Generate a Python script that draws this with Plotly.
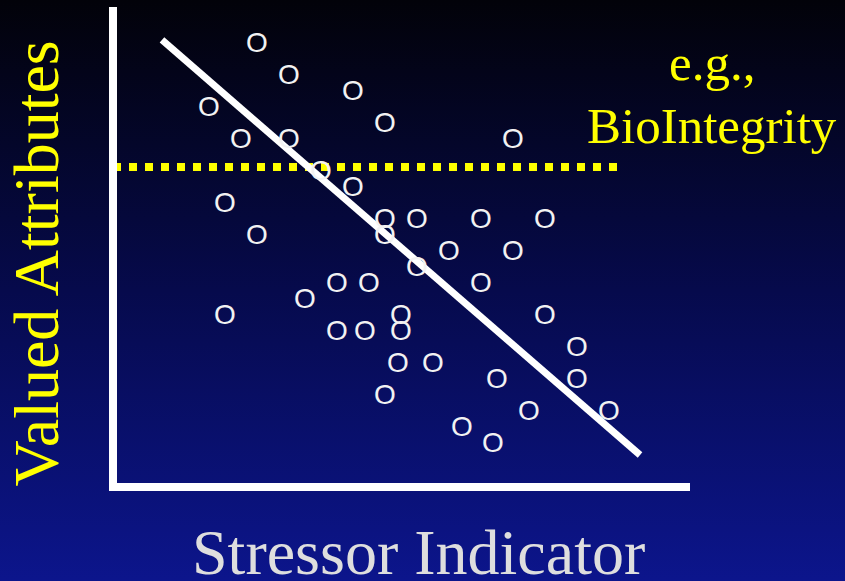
import base64
import plotly.graph_objects as go

# ---- data ----
stress_x = [9, 11, 15, 6, 17, 8, 11, 25, 13, 15,
            7, 17, 19, 23, 27, 9, 17, 21, 25, 19,
            14, 16, 23, 12, 7, 18, 27, 14, 15.75, 18,
            29, 17.8, 20, 24, 29, 17, 26, 31, 21.8, 23.75]
value_y = [28, 26, 25, 24, 23, 22, 22, 22, 20, 19,
           18, 17, 17, 17, 17, 16, 16, 15, 15, 14,
           13, 13, 13, 12, 11, 11, 11, 10, 10, 10,
           9, 8, 8, 7, 7, 6, 5, 5, 4, 3]
trend_x = [3.06, 32.94]
trend_y = [28.14, 2.2]
threshold_x = [0, 31.5]
threshold_y = [20.2, 20.2]

W, H = 845, 581
L, R, T, B = 113, 155, 7, 94
PW, PH = W - L - R, H - T - B
O_SIZE = 28


def px(xp):
    return (xp - L) / PW


def py(yp):
    return (H - B - yp) / PH


svg = (
    "<svg xmlns='http://www.w3.org/2000/svg' width='845' height='581'>"
    "<defs><linearGradient id='g' x1='0' y1='0' x2='0' y2='1'>"
    "<stop offset='0' stop-color='#020209'/>"
    "<stop offset='0.5' stop-color='#060a4c'/>"
    "<stop offset='1' stop-color='#0c158c'/>"
    "</linearGradient></defs>"
    "<rect width='845' height='581' fill='url(#g)'/></svg>"
)
bg_src = "data:image/svg+xml;base64," + base64.b64encode(svg.encode()).decode()

fig = go.Figure()

fig.add_trace(go.Scatter(
    x=threshold_x, y=threshold_y, mode="lines",
    line=dict(color="#ffff00", width=8, dash="8px,8px"),
    hoverinfo="skip", showlegend=False,
))
fig.add_trace(go.Scatter(
    x=trend_x, y=trend_y, mode="lines",
    line=dict(color="#ffffff", width=7),
    hoverinfo="skip", showlegend=False,
))
fig.add_trace(go.Scatter(
    x=stress_x, y=value_y, mode="text", text=["O"] * len(stress_x),
    textposition="middle center",
    textfont=dict(family="Liberation Sans", size=O_SIZE, color="#f2f2f2"),
    yaxis="y2", showlegend=False, hoverinfo="skip",
))

shift = 0.108 * O_SIZE / 16
serif = "Liberation Serif, Times New Roman, serif"
fig.update_layout(
    width=W, height=H,
    margin=dict(l=L, r=R, t=T, b=B, pad=0),
    paper_bgcolor="#050a40",
    plot_bgcolor="rgba(0,0,0,0)",
    xaxis=dict(range=[0, PW / 16], visible=False, showgrid=False, zeroline=False),
    yaxis=dict(range=[0.2, 30.2], visible=False, showgrid=False, zeroline=False),
    yaxis2=dict(range=[0.2 + shift, 30.2 + shift], overlaying="y", visible=False,
                showgrid=False, zeroline=False),
    images=[dict(source=bg_src, xref="paper", yref="paper",
                 x=px(0), y=py(0), sizex=W / PW, sizey=H / PH,
                 xanchor="left", yanchor="top", sizing="stretch", layer="below")],
    shapes=[
        dict(type="line", xref="paper", yref="paper", x0=px(113), x1=px(113),
             y0=py(491), y1=py(7), line=dict(color="white", width=8)),
        dict(type="line", xref="paper", yref="paper", x0=px(109), x1=px(690),
             y0=py(487), y1=py(487), line=dict(color="white", width=8)),
    ],
    annotations=[
        dict(text="Stressor Indicator", xref="paper", yref="paper",
             x=px(418), y=py(574 - 0.3375 * 64), xanchor="center", yanchor="middle",
             showarrow=False,
             font=dict(family=serif, size=64, color="#dedede")),
        dict(text="Valued Attributes", xref="paper", yref="paper",
             x=px(58 - 0.3375 * 64), y=py(263), xanchor="center", yanchor="middle",
             textangle=-90, showarrow=False,
             font=dict(family=serif, size=64, color="#ffff00")),
        dict(text="e.g.,", xref="paper", yref="paper",
             x=px(712), y=py(80 - 0.3375 * 51), xanchor="center", yanchor="middle",
             showarrow=False,
             font=dict(family=serif, size=51, color="#ffff00")),
        dict(text="BioIntegrity", xref="paper", yref="paper",
             x=px(712.5), y=py(143 - 0.3375 * 51), xanchor="center", yanchor="middle",
             showarrow=False,
             font=dict(family=serif, size=51, color="#ffff00")),
    ],
)

fig.write_html(
    "out.html",
    config={"displayModeBar": False},
    post_script="document.body.style.margin='0';document.body.style.padding='0';"
                "document.body.style.overflow='hidden';",
)
